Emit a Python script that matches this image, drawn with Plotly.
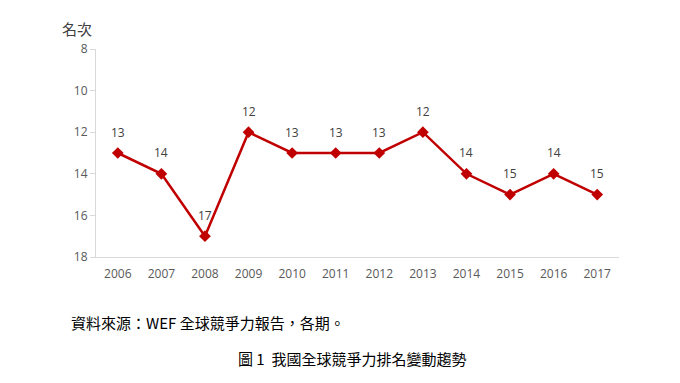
import plotly.graph_objects as go

years = ["2006", "2007", "2008", "2009", "2010", "2011", "2012", "2013", "2014", "2015", "2016", "2017"]
ranks = [13, 14, 17, 12, 13, 13, 13, 12, 14, 15, 14, 15]
y_ticks = [8, 10, 12, 14, 16, 18]

fig = go.Figure()
fig.add_trace(go.Scatter(
    x=years, y=ranks, mode="lines+markers",
    line=dict(color="#C00000", width=2.5),
    marker=dict(symbol="diamond", size=9, color="#C00000"),
    cliponaxis=False, showlegend=False,
))
for i, r in enumerate(ranks):
    fig.add_annotation(x=i, y=r, xref="x", yref="y", text=str(r), showarrow=False, yshift=21,
                       font=dict(family="Open Sans, Arial", size=12, color="#404040"))

fig.update_layout(
    width=680, height=383,
    margin=dict(l=88, r=69, t=41, b=134),
    paper_bgcolor="white", plot_bgcolor="white",
    font=dict(family="Open Sans, Arial", color="#595959"),
    xaxis=dict(type="category", range=[-0.5, 11.5], showline=True, linecolor="#D9D9D9", linewidth=1,
               showgrid=False, ticks="", ticklabelstandoff=6, tickfont=dict(size=12, color="#595959"),
               zeroline=False),
    yaxis=dict(range=[18, 8], tickvals=y_ticks, showline=True, linecolor="#D9D9D9",
               linewidth=1, showgrid=False, ticks="outside", ticklen=5, tickcolor="#D9D9D9",
               tickfont=dict(size=12, color="#595959"), zeroline=False),
)

fig.add_annotation(text="名次", xref="paper", yref="paper", x=-0.036, y=1.0, yshift=21,
                   xanchor="center", yanchor="middle", showarrow=False,
                   font=dict(family="Noto Sans CJK TC", size=15, color="#404040"))
fig.add_annotation(text="資料來源：WEF 全球競爭力報告，各期。", xref="paper", yref="paper",
                   x=-0.052, y=0, yshift=-65, xanchor="left", yanchor="middle", showarrow=False,
                   font=dict(family="Noto Sans CJK TC", size=15, color="#000000"))
fig.add_annotation(text="圖 1  我國全球競爭力排名變動趨勢", xref="paper", yref="paper",
                   x=0.49, y=0, yshift=-101, xanchor="center", yanchor="middle", showarrow=False,
                   font=dict(family="Noto Sans CJK TC", size=15, color="#000000"))

fig.write_html("out.html")
